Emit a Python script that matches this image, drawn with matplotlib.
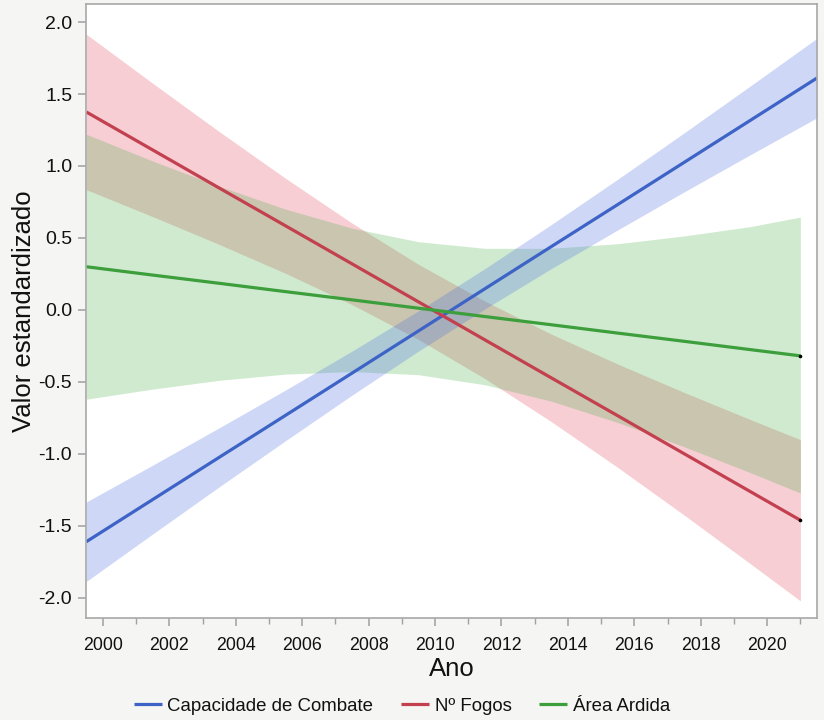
import matplotlib
matplotlib.use("Agg")
import matplotlib.pyplot as plt
from matplotlib.ticker import MultipleLocator, FixedLocator
import numpy as np

plt.rcParams['font.family'] = ['Liberation Sans', 'DejaVu Sans']

# ---- data ----
anos_ref = [1999.5, 2001.5, 2003.5, 2005.5, 2007.5, 2009.5, 2011.5, 2013.5, 2015.5, 2017.5, 2019.5, 2021.0]
anos_cap = [1999.5, 2001.5, 2003.5, 2005.5, 2007.5, 2009.5, 2011.5, 2013.5, 2015.5, 2017.5, 2019.5, 2021.5]

cap_fit   = [-1.610, -1.317, -1.024, -0.732, -0.439, -0.146, 0.147, 0.440, 0.732, 1.025, 1.318, 1.611]
cap_lower = [-1.886, -1.556, -1.229, -0.908, -0.592, -0.286, 0.007, 0.287, 0.556, 0.820, 1.079, 1.335]
cap_upper = [-1.334, -1.078, -0.819, -0.556, -0.286, -0.006, 0.287, 0.593, 0.908, 1.230, 1.557, 1.887]

fog_fit   = [1.375, 1.111, 0.847, 0.584, 0.320, 0.056, -0.208, -0.472, -0.735, -0.999, -1.263, -1.461]
fog_lower = [0.835, 0.648, 0.455, 0.254, 0.037, -0.205, -0.477, -0.776, -1.094, -1.425, -1.764, -2.021]
fog_upper = [1.915, 1.574, 1.239, 0.914, 0.603, 0.317, 0.061, -0.168, -0.376, -0.573, -0.762, -0.901]

area_fit   = [0.300, 0.242, 0.185, 0.127, 0.070, 0.012, -0.046, -0.103, -0.161, -0.218, -0.276, -0.319]
area_lower = [-0.620, -0.550, -0.489, -0.446, -0.428, -0.450, -0.520, -0.634, -0.782, -0.950, -1.131, -1.272]
area_upper = [1.220, 1.034, 0.859, 0.700, 0.568, 0.474, 0.428, 0.428, 0.460, 0.514, 0.579, 0.645]

series_names = ["Capacidade de Combate", "Nº Fogos", "Área Ardida"]
y_ticks = [-2.0, -1.5, -1.0, -0.5, 0.0, 0.5, 1.0, 1.5, 2.0]
x_ticks = [2000, 2002, 2004, 2006, 2008, 2010, 2012, 2014, 2016, 2018, 2020]

# ---- styles ----
c_blue, c_red, c_green = "#3d63c6", "#c3404f", "#3c9f3c"
f_blue, f_red, f_green = (0.26, 0.41, 0.88), (0.86, 0.20, 0.28), (0.24, 0.67, 0.24)

fig = plt.figure(figsize=(8.24, 7.2), dpi=100, facecolor="#f5f5f3")
ax = fig.add_axes([0.1044, 0.1417, 0.9915 - 0.1044, 0.9944 - 0.1417])
ax.set_facecolor("white")

ax.fill_between(anos_ref, fog_lower, fog_upper, color=f_red, alpha=0.24, linewidth=0)
ax.fill_between(anos_ref, area_lower, area_upper, color=f_green, alpha=0.24, linewidth=0)
ax.fill_between(anos_cap, cap_lower, cap_upper, color=f_blue, alpha=0.26, linewidth=0)

l1, = ax.plot(anos_cap, cap_fit, color=c_blue, lw=2.3, solid_capstyle='butt')
l2, = ax.plot(anos_ref, fog_fit, color=c_red, lw=2.3, solid_capstyle='butt')
l3, = ax.plot(anos_ref, area_fit, color=c_green, lw=2.3, solid_capstyle='butt')
ax.plot([anos_ref[-1]], [fog_fit[-1]], 'o', color='black', ms=1.6)
ax.plot([anos_ref[-1]], [area_fit[-1]], 'o', color='black', ms=1.6)

ax.set_xlim(1999.49, 2021.5)
ax.set_ylim(-2.14, 2.125)

ax.xaxis.set_major_locator(FixedLocator(x_ticks))
ax.xaxis.set_minor_locator(MultipleLocator(1))
ax.set_xticklabels([str(t) for t in x_ticks])
ax.yaxis.set_major_locator(FixedLocator(y_ticks))
ax.set_yticklabels([f"{t:.1f}" for t in y_ticks])

for s in ax.spines.values():
    s.set_color("#a8a8a8")
    s.set_linewidth(1.2)

ax.tick_params(axis='both', which='major', direction='out', length=6, width=1.1,
               color="#a0a0a0", labelcolor="#111111")
ax.tick_params(axis='x', which='minor', direction='out', length=4, width=1.0, color="#a0a0a0")
ax.tick_params(axis='x', which='major', pad=8, labelsize=12.8)
ax.tick_params(axis='y', which='major', pad=4, labelsize=14)

ax.set_xlabel("Ano", fontsize=18.5, labelpad=2, color="#111111")
ax.set_ylabel("Valor estandardizado", fontsize=18.5, color="#111111")
ax.yaxis.set_label_coords(-0.068, 0.5)

leg = fig.legend([l1, l2, l3], series_names, loc='center', ncol=3,
                 bbox_to_anchor=(402 / 824, 1 - 706 / 720), frameon=False,
                 fontsize=13.4, handlelength=1.5, handletextpad=0.3, columnspacing=1.5)
for t in leg.get_texts():
    t.set_color("#111111")

fig.savefig("out.png", dpi=100, facecolor=fig.get_facecolor())
